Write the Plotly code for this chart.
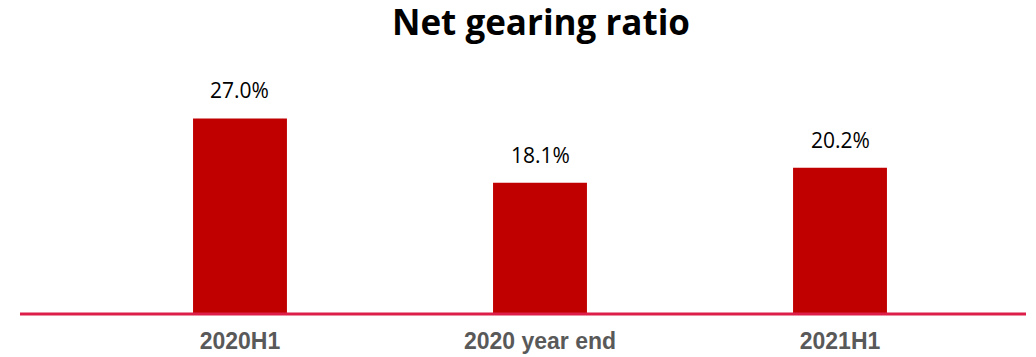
import plotly.graph_objects as go

categories = ["2020H1", "2020 year end", "2021H1"]
values = [27.0, 18.1, 20.2]
labels = ["27.0%", "18.1%", "20.2%"]

BAR_COLOR = "#C00000"
LINE_COLOR = "#DC1E48"

fig = go.Figure()
fig.add_trace(go.Bar(
    x=categories, y=values,
    marker=dict(color=BAR_COLOR, line=dict(width=0)),
    width=0.313,
    hoverinfo="skip",
))

for c, v, t in zip(categories, values, labels):
    fig.add_annotation(
        x=c, y=v, text=t, showarrow=False,
        yanchor="bottom", yshift=12,
        font=dict(family="Open Sans", size=21, color="#000000"),
    )

fig.add_shape(type="line", xref="paper", yref="y", x0=0, x1=1, y0=0, y1=0,
              line=dict(color=LINE_COLOR, width=3), layer="above")

fig.update_layout(
    width=1028, height=349,
    margin=dict(l=12, r=10, t=52, b=40),
    paper_bgcolor="white", plot_bgcolor="white",
    showlegend=False,
    title=dict(text="<b>Net gearing ratio</b>", x=533 / 1028, xanchor="center",
               y=1 - 15 / 349, yanchor="middle",
               font=dict(family="Open Sans", size=35, color="#000000")),
    xaxis=dict(range=[-0.7333, 2.62], showline=False, showgrid=False,
               zeroline=False, ticks="outside", ticklen=3, automargin=False,
               tickcolor="rgba(0,0,0,0)",
               tickfont=dict(family="Liberation Sans", size=23, color="#595959"),
               tickvals=categories,
               ticktext=["<b>%s</b>" % c for c in categories]),
    yaxis=dict(range=[-3 / 7.2456, 35.06], visible=False, showgrid=False,
               zeroline=False, automargin=False),
)

fig.write_html("out.html")
